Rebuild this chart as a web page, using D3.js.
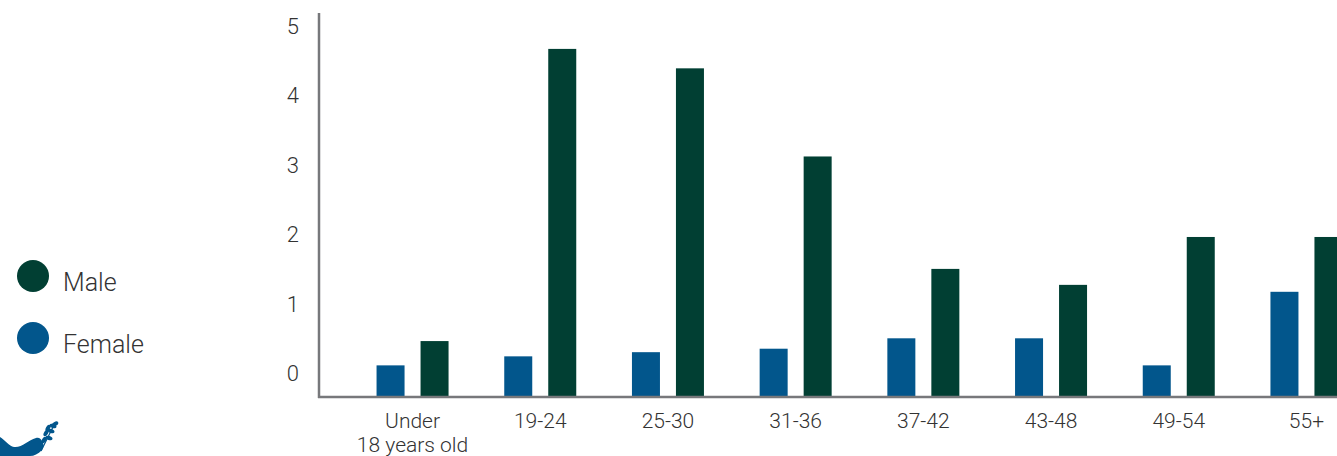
<!DOCTYPE html>
<html>
<head>
<meta charset="utf-8">
<script src="https://cdn.jsdelivr.net/npm/d3@7"></script>
<style>
  html, body { margin: 0; padding: 0; background: #ffffff; }
  svg { display: block; }
  text { font-family: Roboto, "Noto Sans", sans-serif; font-weight: 300; fill: #333333; }
</style>
</head>
<body>
<svg id="chart" width="1337" height="456"></svg>
<script>
// ---- data ----
const categories = ["Under\n18 years old", "19-24", "25-30", "31-36", "37-42", "43-48", "49-54", "55+"];
const series = ["Female", "Male"];
const femaleValues = [0.11, 0.24, 0.30, 0.35, 0.50, 0.50, 0.11, 1.17];
const maleValues   = [0.46, 4.67, 4.39, 3.12, 1.50, 1.27, 1.96, 1.96];
const yTicks = [0, 1, 2, 3, 4, 5];
const legendItems = ["Male", "Female"];

// ---- styles / layout ----
const colors = { Female: "#02568c", Male: "#013f33" };
const axisColor = "#77787b";
const W = 1337, H = 456;
const axisX = 319;      // y-axis line x
const baseY = 397;      // x-axis line y
const svg = d3.select("#chart");

const data = categories.map((c, i) => ({ cat: c, Female: femaleValues[i], Male: maleValues[i] }));

// scales
const x0 = d3.scaleBand().domain(categories).range([348.7, 348.7 + 8 * 127.7]).paddingInner(0).paddingOuter(0);
const x1 = d3.scaleBand().domain(series).range([-36, 36]).paddingInner(16 / 44).paddingOuter(0);
const y = d3.scaleLinear().domain([0, 5]).range([373, 26]);

// bars
const groups = svg.append("g").selectAll("g").data(data).join("g")
  .attr("transform", d => `translate(${x0(d.cat) + x0.bandwidth() / 2},0)`);
groups.selectAll("rect").data(d => series.map(s => ({ s, v: d[s] }))).join("rect")
  .attr("x", d => x1(d.s))
  .attr("width", x1.bandwidth())
  .attr("y", d => y(d.v))
  .attr("height", d => baseY - y(d.v))
  .attr("fill", d => colors[d.s]);

// y axis line
svg.append("line").attr("x1", axisX).attr("x2", axisX).attr("y1", 13).attr("y2", baseY + 1)
  .attr("stroke", axisColor).attr("stroke-width", 2.5);
// x axis line
svg.append("line").attr("x1", axisX - 1).attr("x2", W).attr("y1", baseY).attr("y2", baseY)
  .attr("stroke", axisColor).attr("stroke-width", 2.5);

// y tick labels
svg.append("g").selectAll("text").data(yTicks).join("text")
  .attr("x", 299)
  .attr("y", d => y(d))
  .attr("dy", "0.36em")
  .attr("text-anchor", "end")
  .style("font-size", "22px")
  .text(d => d);

// x tick labels
const xl = svg.append("g").selectAll("text").data(categories).join("text")
  .attr("text-anchor", "middle")
  .attr("transform", d => `translate(${x0(d) + x0.bandwidth() / 2},428)`)
  .style("font-size", "21px");
xl.each(function(d) {
  const t = d3.select(this);
  d.split("\n").forEach((line, i) => {
    t.append("tspan").attr("x", 0).attr("dy", i === 0 ? 0 : 24).text(line);
  });
});

// legend
const lg = svg.append("g").selectAll("g").data(legendItems).join("g")
  .attr("transform", (d, i) => `translate(33,${276 + i * 62})`);
lg.append("circle").attr("r", 16).attr("fill", d => colors[d]);
lg.append("text").attr("x", 30).attr("y", 15)
  .style("font-size", "25px").text(d => d);

// logo (dove with olive branch), bottom-left
const logo = svg.append("g").attr("fill", colors.Female);
logo.append("path").attr("d",
  "M0,437 C5,440 9,446 14,447 C22,448 28,440 36,438 C39,437 41,439 42,441 C44,444 44,447 42,450 C38,454 34,456 30,456 L0,456 Z");
logo.append("path").attr("d", "M41,451 L55,423").attr("stroke", colors.Female).attr("stroke-width", 1.2).attr("fill", "none");
const leaves = [[44,440,-60],[49,438,20],[46,433,-60],[51,431,20],[48,428,-60],[53,426,20],[55,424,-30]];
logo.selectAll("ellipse").data(leaves).join("ellipse")
  .attr("cx", d => d[0]).attr("cy", d => d[1]).attr("rx", 3.6).attr("ry", 2)
  .attr("transform", d => `rotate(${d[2]},${d[0]},${d[1]})`);
</script>
</body>
</html>
